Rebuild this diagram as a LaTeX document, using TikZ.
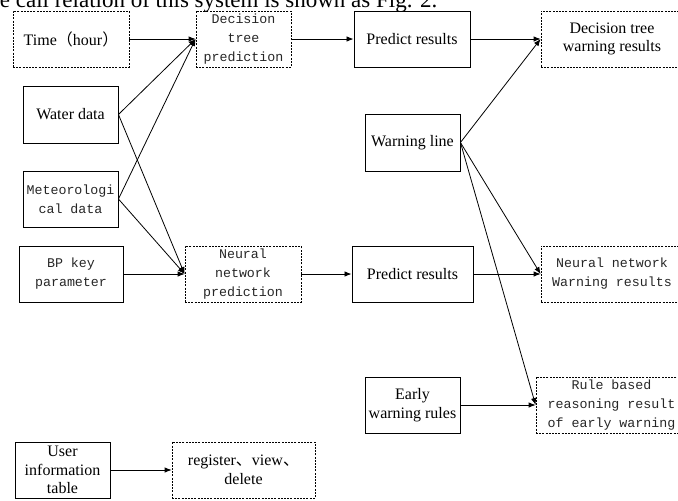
\documentclass[tikz,border=0pt]{standalone}
\usepackage{fontspec}
\setmainfont{Liberation Serif}
\setmonofont{Liberation Mono}
\newfontfamily\cjk{Noto Sans CJK SC}
\usetikzlibrary{arrows.meta}
\begin{document}
\begin{tikzpicture}[x=1pt,y=-1pt,
  boxs/.style={draw, line width=0.9pt, inner sep=0pt, align=center, minimum height=56pt},
  boxd/.style={boxs, line width=0.8pt, dash pattern=on 2pt off 1.2pt},
  serif/.style={font=\fontsize{16}{18.5}\selectfont},
  mono/.style={font=\fontsize{13.3}{19}\selectfont\ttfamily, text=black!85},
  arr/.style={-{Latex[length=7pt,width=5.5pt]}, line width=0.8pt}]
\useasboundingbox (0,0) rectangle (678,501);
\clip (0,0) rectangle (678,501);
\node[anchor=base east, font=\fontsize{23}{27}\selectfont] (cap) at (441,7.5) {The call relation of this system is shown as Fig. 2.};
% nodes
\node[boxd, serif, minimum width=116pt] (time) at (71,39) {Time{\cjk （}hour{\cjk ）}};
\node[boxd, mono, minimum width=95pt] (dtp) at (243.5,39) {Decision\\tree\\prediction};
\node[boxs, serif, minimum width=116pt] (pr1) at (412,39) {Predict results};
\node[boxd, serif, minimum width=142pt] (dtw) at (612,39) {Decision tree\\warning results};
\node[boxs, serif, minimum width=95pt, minimum height=57pt] (water) at (70.5,114.5) {Water data};
\node[boxs, mono, minimum width=95pt] (meteo) at (70.5,199) {Meteorologi\\cal data};
\node[boxs, mono, minimum width=104pt] (bp) at (71,274) {BP key\\parameter};
\node[boxd, mono, minimum width=116pt] (nnp) at (243,274) {Neural\\network\\prediction};
\node[boxs, serif, minimum width=121pt] (pr2) at (412.5,274) {Predict results};
\node[boxd, mono, minimum width=142pt] (nnw) at (612,274) {Neural network\\Warning results};
\node[boxs, serif, minimum width=95pt, minimum height=57pt] (wl) at (412.5,142.5) {Warning line};
\node[boxs, serif, minimum width=95pt] (ewr) at (412.5,405) {Early\\warning rules};
\node[boxd, mono, minimum width=151pt] (rbr) at (611.5,405) {Rule based\\reasoning result\\of early warning};
\node[boxs, serif, minimum width=95pt] (uit) at (62.5,470) {User\\information\\table};
\node[boxd, serif, minimum width=143pt] (reg) at (243.5,470) {register{\cjk 、}view{\cjk 、}\\delete};
% connectors
\draw[arr] (time.east) -- (dtp.west);
\draw[arr] (water.east) -- (dtp.west);
\draw[arr] (meteo.east) -- (dtp.west);
\draw[arr] (water.east) -- (nnp.west);
\draw[arr] (meteo.east) -- (nnp.west);
\draw[arr] (bp.east) -- (nnp.west);
\draw[arr] (dtp.east) -- (pr1.west);
\draw[arr] (nnp.east) -- (pr2.west);
\draw[arr] (pr1.east) -- (dtw.west);
\draw[arr] (pr2.east) -- (nnw.west);
\draw[arr] (wl.east) -- (dtw.west);
\draw[arr] (wl.east) -- (nnw.west);
\draw[arr] (wl.east) -- (rbr.west);
\draw[arr] (ewr.east) -- (rbr.west);
\draw[arr] (uit.east) -- (reg.west);
\end{tikzpicture}
\end{document}
